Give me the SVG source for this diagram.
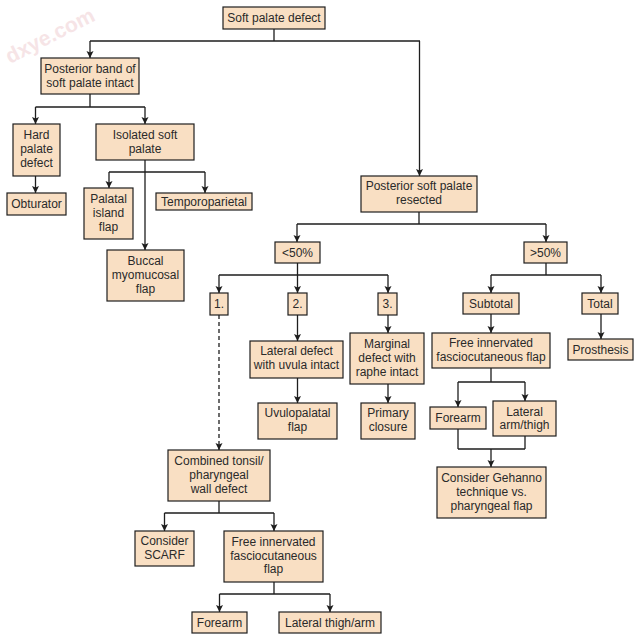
<svg xmlns="http://www.w3.org/2000/svg" width="638" height="637" viewBox="0 0 638 637">
<defs>
<style>
.box{fill:#f9dfc3;stroke:#1e1e1e;stroke-width:1.2}
.t{font-family:"Liberation Sans",Arial,sans-serif;font-size:12px;fill:#2a2a2a;text-anchor:middle}
.c{fill:none;stroke:#1e1e1e;stroke-width:1.3}
.a{marker-end:url(#ah)}
.d{stroke-dasharray:4,3}
.wm{font-family:"Liberation Sans",Arial,sans-serif;font-size:21px;font-weight:bold;fill:#f6e4e6}
</style>
<marker id="ah" markerUnits="userSpaceOnUse" markerWidth="8" markerHeight="8" refX="7" refY="3.5" orient="auto">
<path d="M0,0 L7,3.5 L0,7 L1.5,3.5 Z" fill="#1e1e1e"/>
</marker>
</defs>
<rect width="638" height="637" fill="#ffffff"/>
<text class="wm" x="10" y="64" transform="rotate(-27 10 64)">dxye.com</text>
<g id="connectors">
<path class="c" d="M274,29 V41 M90,41 H420 M90,94 V107 M35.5,107 H145 M109,172 H205 M419,212 V224 M297,224 H546 M297.5,263 V275 M219,275 H388 M546,263 V275 M491,275 H601 M491,368 V382 M458,382 H525 M458,429 V449 M525,436 V449 M458,449 H525 M219,501 V513 M164.5,513 H274 M274,582 V594 M219.5,594 H330"/>
<path class="c a" d="M90,41 V58"/>
<path class="c a" d="M419.5,41 V176"/>
<path class="c a" d="M35.5,107 V124"/>
<path class="c a" d="M145,107 V124"/>
<path class="c a" d="M35.5,176 V193"/>
<path class="c a" d="M145,160 V250"/>
<path class="c a" d="M109,172 V188"/>
<path class="c a" d="M205,172 V193"/>
<path class="c a" d="M297,224 V242"/>
<path class="c a" d="M546,224 V242"/>
<path class="c a" d="M219,275 V293"/>
<path class="c a" d="M297.5,275 V293"/>
<path class="c a" d="M388,275 V293"/>
<path class="c a" d="M491,275 V293"/>
<path class="c a" d="M601,275 V293"/>
<path class="c a" d="M297.5,315 V341"/>
<path class="c a" d="M297.5,378 V403"/>
<path class="c a" d="M388,315 V333"/>
<path class="c a" d="M388,384 V403"/>
<path class="c a" d="M491,314 V333"/>
<path class="c a" d="M601,314 V339"/>
<path class="c a" d="M458,382 V407"/>
<path class="c a" d="M525,382 V401"/>
<path class="c a" d="M491,449 V467"/>
<path class="c a d" d="M219,315 V450"/>
<path class="c a" d="M164.5,513 V531"/>
<path class="c a" d="M274,513 V531"/>
<path class="c a" d="M219.5,594 V612"/>
<path class="c a" d="M330,594 V612"/>
</g>
<g id="n1"><rect class="box" x="223" y="7" width="102" height="22"/><text class="t" x="274" y="22">Soft palate defect</text></g>
<g id="n2"><rect class="box" x="41" y="58" width="98" height="36"/><text class="t" x="90" y="73">Posterior band of</text><text class="t" x="90" y="87">soft palate intact</text></g>
<g id="n3"><rect class="box" x="13" y="124" width="47" height="52"/><text class="t" x="36.5" y="139">Hard</text><text class="t" x="36.5" y="153">palate</text><text class="t" x="36.5" y="167">defect</text></g>
<g id="n4"><rect class="box" x="7" y="193" width="59" height="22"/><text class="t" x="36.5" y="208">Obturator</text></g>
<g id="n5"><rect class="box" x="96" y="124" width="98" height="36"/><text class="t" x="145" y="139">Isolated soft</text><text class="t" x="145" y="153">palate</text></g>
<g id="n6"><rect class="box" x="84" y="188" width="49" height="51"/><text class="t" x="108.5" y="203">Palatal</text><text class="t" x="108.5" y="217">island</text><text class="t" x="108.5" y="231">flap</text></g>
<g id="n7"><rect class="box" x="156" y="193" width="96" height="17"/><text class="t" x="204" y="206">Temporoparietal</text></g>
<g id="n8"><rect class="box" x="107" y="250" width="77" height="51"/><text class="t" x="145.5" y="265">Buccal</text><text class="t" x="145.5" y="279">myomucosal</text><text class="t" x="145.5" y="293">flap</text></g>
<g id="n9"><rect class="box" x="361" y="176" width="116" height="36"/><text class="t" x="419" y="190">Posterior soft palate</text><text class="t" x="419" y="204">resected</text></g>
<g id="n10"><rect class="box" x="275" y="242" width="45" height="21"/><text class="t" x="297.5" y="257">&lt;50%</text></g>
<g id="n11"><rect class="box" x="524" y="242" width="43" height="21"/><text class="t" x="545.5" y="257">&gt;50%</text></g>
<g id="n12"><rect class="box" x="210" y="293" width="18" height="22"/><text class="t" x="219" y="308">1.</text></g>
<g id="n13"><rect class="box" x="288" y="293" width="19" height="22"/><text class="t" x="297.5" y="308">2.</text></g>
<g id="n14"><rect class="box" x="378" y="293" width="19" height="22"/><text class="t" x="387.5" y="308">3.</text></g>
<g id="n15"><rect class="box" x="463" y="293" width="56" height="21"/><text class="t" x="491" y="308">Subtotal</text></g>
<g id="n16"><rect class="box" x="582" y="293" width="36" height="21"/><text class="t" x="600" y="308">Total</text></g>
<g id="n17"><rect class="box" x="250" y="341" width="93" height="37"/><text class="t" x="296.5" y="355">Lateral defect</text><text class="t" x="296.5" y="369">with uvula intact</text></g>
<g id="n18"><rect class="box" x="350" y="333" width="74" height="51"/><text class="t" x="387" y="347.5">Marginal</text><text class="t" x="387" y="361.5">defect with</text><text class="t" x="387" y="375.5">raphe intact</text></g>
<g id="n19"><rect class="box" x="432" y="333" width="118" height="35"/><text class="t" x="491" y="347">Free innervated</text><text class="t" x="491" y="361">fasciocutaneous flap</text></g>
<g id="n20"><rect class="box" x="568" y="339" width="65" height="21"/><text class="t" x="600.5" y="354">Prosthesis</text></g>
<g id="n21"><rect class="box" x="258" y="403" width="79" height="36"/><text class="t" x="297.5" y="417">Uvulopalatal</text><text class="t" x="297.5" y="431">flap</text></g>
<g id="n22"><rect class="box" x="361" y="403" width="54" height="36"/><text class="t" x="388" y="417">Primary</text><text class="t" x="388" y="431">closure</text></g>
<g id="n23"><rect class="box" x="430" y="407" width="56" height="22"/><text class="t" x="458" y="422">Forearm</text></g>
<g id="n24"><rect class="box" x="493" y="401" width="63" height="35"/><text class="t" x="524.5" y="415.5">Lateral</text><text class="t" x="524.5" y="428.5">arm/thigh</text></g>
<g id="n25"><rect class="box" x="437" y="467" width="109" height="51"/><text class="t" x="491.5" y="482">Consider Gehanno</text><text class="t" x="491.5" y="496">technique vs.</text><text class="t" x="491.5" y="510">pharyngeal flap</text></g>
<g id="n26"><rect class="box" x="168" y="450" width="102" height="51"/><text class="t" x="219" y="465">Combined tonsil/</text><text class="t" x="219" y="479">pharyngeal</text><text class="t" x="219" y="493">wall defect</text></g>
<g id="n27"><rect class="box" x="135" y="531" width="59" height="35"/><text class="t" x="164.5" y="545">Consider</text><text class="t" x="164.5" y="559">SCARF</text></g>
<g id="n28"><rect class="box" x="224" y="531" width="99" height="51"/><text class="t" x="273.5" y="546">Free innervated</text><text class="t" x="273.5" y="559.5">fasciocutaneous</text><text class="t" x="273.5" y="573">flap</text></g>
<g id="n29"><rect class="box" x="192" y="612" width="55" height="21"/><text class="t" x="219.5" y="627">Forearm</text></g>
<g id="n30"><rect class="box" x="279" y="612" width="102" height="21"/><text class="t" x="330" y="627">Lateral thigh/arm</text></g>
</svg>
